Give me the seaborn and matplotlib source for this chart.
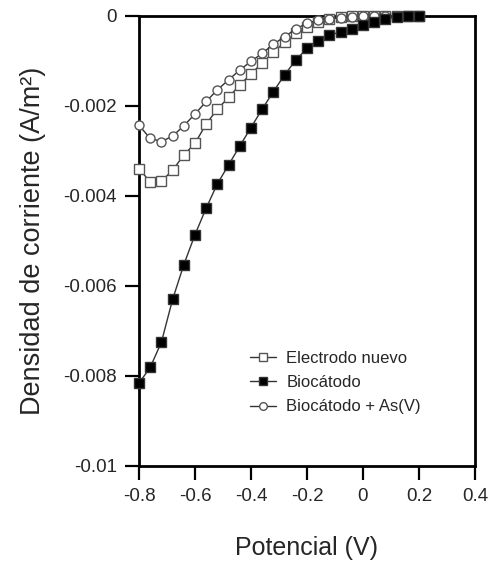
import numpy as np
import pandas as pd
import matplotlib
matplotlib.use('Agg')
import matplotlib.pyplot as plt
from matplotlib.ticker import FuncFormatter
import seaborn as sns

# potential (V)
potencial = [-0.80, -0.76, -0.72, -0.68, -0.64, -0.60, -0.56, -0.52, -0.48, -0.44,
             -0.40, -0.36, -0.32, -0.28, -0.24, -0.20, -0.16, -0.12, -0.08, -0.04,
             0.00, 0.04, 0.08, 0.12, 0.16, 0.20]

# current density (A/m2)
electrodo_nuevo = [-0.00339, -0.00369, -0.00367, -0.00343, -0.00309, -0.00283, -0.00240, -0.00207,
                   -0.00181, -0.00153, -0.00129, -0.00104, -0.00081, -0.00058, -0.00038, -0.00024,
                   -0.00013, -0.00006, -0.00003, -0.00001, 0.0, 0.0, 0.0, 0.0, 0.0, 0.0]
biocatodo = [-0.00816, -0.00781, -0.00725, -0.00630, -0.00553, -0.00486, -0.00427, -0.00373,
             -0.00331, -0.00289, -0.00248, -0.00207, -0.00168, -0.00131, -0.00098, -0.00072,
             -0.00055, -0.00042, -0.00036, -0.00030, -0.00020, -0.00013, -0.00007, -0.00002,
             0.0, 0.0]
biocatodo_as = [-0.00243, -0.00272, -0.00279, -0.00267, -0.00244, -0.00218, -0.00190, -0.00164,
                -0.00142, -0.00120, -0.00101, -0.00083, -0.00063, -0.00046, -0.00029, -0.00016,
                -0.00009, -0.00006, -0.00004, -0.00002, -0.00001, 0.0, 0.0, 0.0, 0.0, 0.0]

df = pd.DataFrame({'Potencial': potencial,
                   'Electrodo nuevo': electrodo_nuevo,
                   'Biocátodo': biocatodo,
                   'Biocátodo + As(V)': biocatodo_as})

sns.set_style('ticks')
plt.rcParams['font.family'] = ['Liberation Sans', 'DejaVu Sans']
plt.rcParams['axes.unicode_minus'] = False

fig = plt.figure(figsize=(5.01, 5.63), dpi=100)
ax = fig.add_axes([0.2774, 0.1723, 0.6706, 0.7993])

line_kw = dict(color='#333333', linewidth=1.0, markersize=6.5, markeredgewidth=1.0, clip_on=False)
sns.lineplot(data=df, x='Potencial', y='Electrodo nuevo', ax=ax, marker='s',
             markerfacecolor='white', markeredgecolor='#555555', label='Electrodo nuevo',
             zorder=3, **line_kw)
sns.lineplot(data=df, x='Potencial', y='Biocátodo', ax=ax, marker='s',
             markerfacecolor='black', markeredgecolor='#333333', label='Biocátodo',
             zorder=5, **line_kw)
sns.lineplot(data=df, x='Potencial', y='Biocátodo + As(V)', ax=ax, marker='o',
             markerfacecolor='white', markeredgecolor='#555555', label='Biocátodo + As(V)',
             zorder=4, **line_kw)

ax.set_xlim(-0.8, 0.4)
ax.set_ylim(-0.01, 0)
ax.set_xticks([-0.8, -0.6, -0.4, -0.2, 0, 0.2, 0.4])
ax.set_yticks([0, -0.002, -0.004, -0.006, -0.008, -0.01])
fmt = FuncFormatter(lambda v, p: '%g' % (round(v, 6) + 0.0))
ax.xaxis.set_major_formatter(fmt)
ax.yaxis.set_major_formatter(fmt)
ax.tick_params(direction='out', length=10, width=1.6, labelsize=13.5, pad=6, color='black')

for s in ax.spines.values():
    s.set_linewidth(2.0)
    s.set_color('black')
    s.set_visible(True)

ax.set_xlabel('Potencial (V)', fontsize=18, labelpad=22)
ax.set_ylabel('Densidad de corriente (A/m²)', fontsize=19.5, labelpad=12)

leg = ax.legend(loc='upper left', bbox_to_anchor=(0.31, 0.27), frameon=False, fontsize=12,
                handlelength=1.6, handletextpad=0.6, labelspacing=0.55, borderaxespad=0,
                markerscale=0.85)

fig.savefig('out.png', dpi=100)
